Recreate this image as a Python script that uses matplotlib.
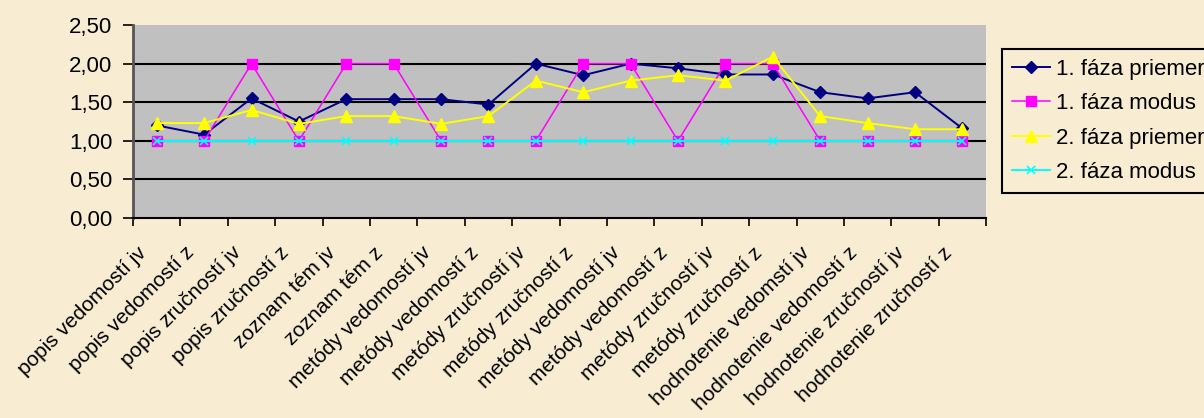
import matplotlib
matplotlib.use('Agg')
from matplotlib import pyplot as plt
from matplotlib.transforms import ScaledTranslation
import numpy as np

categories = [
    'popis vedomostí jv', 'popis vedomostí z', 'popis zručností jv', 'popis zručností z',
    'zoznam tém jv', 'zoznam tém z', 'metódy vedomostí jv', 'metódy vedomostí z',
    'metódy zručností jv', 'metódy zručností z', 'metódy vedomostí jv', 'metódy vedomostí z',
    'metódy zručností jv', 'metódy zručností z', 'hodnotenie vedomstí jv',
    'hodnotenie vedomostí z', 'hodnotenie zručností jv', 'hodnotenie zručností z',
]
faza1_priemer = [1.20, 1.08, 1.55, 1.25, 1.54, 1.54, 1.54, 1.47, 2.00, 1.85,
                 2.00, 1.94, 1.86, 1.86, 1.63, 1.55, 1.63, 1.16]
faza1_modus = [1, 1, 2, 1, 2, 2, 1, 1, 1, 2, 2, 1, 2, 2, 1, 1, 1, 1]
faza2_priemer = [1.23, 1.23, 1.40, 1.22, 1.32, 1.32, 1.22, 1.32, 1.78, 1.63,
                 1.78, 1.85, 1.78, 2.09, 1.32, 1.23, 1.15, 1.15]
faza2_modus = [1] * 18
y_ticks = [0.0, 0.5, 1.0, 1.5, 2.0, 2.5]

plt.rcParams['font.family'] = ['Liberation Sans', 'DejaVu Sans']
bg = '#f8edd3'

fig = plt.figure(figsize=(12.04, 4.18), dpi=100, facecolor=bg)
ax = fig.add_axes([0.1105, 0.4785, 0.7085, 0.4615])
ax.set_facecolor('#c0c0c0')

x = np.arange(len(categories))
ax.plot(x, faza1_priemer, color='#000080', marker='D', markersize=6, lw=1.4, label='1. fáza priemer')
ax.plot(x, faza1_modus, color='#ff00ff', marker='s', markersize=7, lw=1.1, label='1. fáza modus')
ax.plot(x, faza2_priemer, color='#ffff00', marker='^', markersize=8, lw=1.4, label='2. fáza priemer')
ax.plot(x, faza2_modus, color='#00ffff', marker='x', markersize=6, mew=1.2, lw=1.4, label='2. fáza modus')

ax.set_xlim(-0.5, len(categories) - 0.5)
ax.set_ylim(0, 2.5)
ax.set_yticks(y_ticks)
ax.set_yticklabels([f'{v:.2f}'.replace('.', ',') for v in y_ticks], fontsize=16)
for v in y_ticks[1:-1]:
    ax.axhline(v, color='black', lw=1.5, zorder=0.5)

ax.set_xticks(x)
ax.set_xticklabels(categories, rotation=45, ha='right', va='top', rotation_mode='anchor', fontsize=15)
ax.tick_params(axis='x', which='major', length=0, pad=18)
shift = ScaledTranslation(-0.2, 0, fig.dpi_scale_trans)
for lbl in ax.get_xticklabels():
    lbl.set_transform(lbl.get_transform() + shift)
ax.set_xticks(np.arange(len(categories) + 1) - 0.5, minor=True)
ax.tick_params(axis='x', which='minor', length=6, width=1.2, direction='out')
ax.tick_params(axis='y', length=7, width=1.2, direction='out', pad=8)

for side in ['top', 'right']:
    ax.spines[side].set_visible(False)
ax.spines['left'].set_color('#555555')
ax.spines['left'].set_linewidth(2)
ax.spines['bottom'].set_linewidth(1.5)

leg = fig.legend(loc='upper left', bbox_to_anchor=(0.832, 0.883), fontsize=16,
                 frameon=True, fancybox=False, facecolor=bg, edgecolor='black',
                 handlelength=1.7, handletextpad=0.3, labelspacing=0.6, borderpad=0.45,
                 borderaxespad=0, framealpha=1)
leg.get_frame().set_linewidth(1.5)

fig.savefig('out.png', dpi=100, facecolor=bg)
